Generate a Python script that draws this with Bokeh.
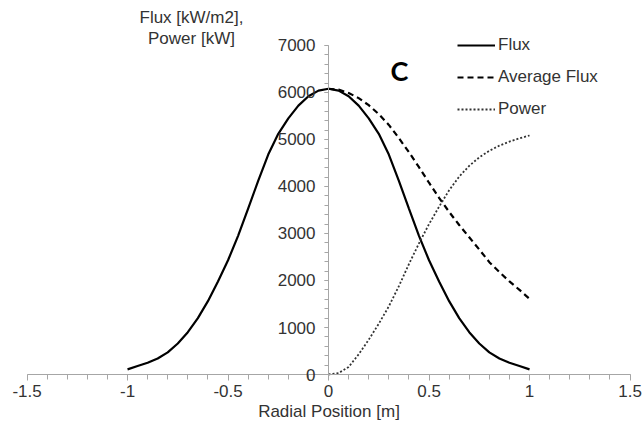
from bokeh.plotting import figure
from bokeh.models import (LinearAxis, Label, Legend, LegendItem, FixedTicker, Range1d)
from bokeh.embed import file_html
from bokeh.resources import INLINE

# ---------------- data ----------------
flux_x = [-1.0, -0.95, -0.9, -0.85, -0.8, -0.75, -0.7, -0.65, -0.6, -0.55, -0.5,
          -0.45, -0.4, -0.35, -0.3, -0.25, -0.2, -0.15, -0.1, -0.05, 0.0,
          0.05, 0.1, 0.15, 0.2, 0.25, 0.3, 0.35, 0.4, 0.45, 0.5,
          0.55, 0.6, 0.65, 0.7, 0.75, 0.8, 0.85, 0.9, 0.95, 1.0]
flux_y = [110, 180, 250, 340, 470, 660, 900, 1200, 1560, 1980, 2430,
          2950, 3530, 4120, 4680, 5120, 5450, 5720, 5920, 6040, 6080,
          6040, 5920, 5720, 5450, 5120, 4680, 4120, 3530, 2950, 2430,
          1980, 1560, 1200, 900, 660, 470, 340, 250, 180, 110]

half_x = [0.0, 0.05, 0.1, 0.15, 0.2, 0.25, 0.3, 0.35, 0.4, 0.45, 0.5,
          0.55, 0.6, 0.65, 0.7, 0.75, 0.8, 0.85, 0.9, 0.95, 1.0]
avg_flux = [6080, 6060, 5990, 5880, 5730, 5540, 5310, 5030, 4730, 4410, 4080,
            3760, 3460, 3180, 2920, 2660, 2390, 2180, 1980, 1800, 1610]
power = [0, 30, 160, 430, 740, 1080, 1450, 1880, 2350, 2790, 3200,
         3570, 3920, 4210, 4440, 4620, 4760, 4870, 4955, 5025, 5085]

series_names = ["Flux", "Average Flux", "Power"]

x_ticks = [-1.5, -1.0, -0.5, 0.0, 0.5, 1.0, 1.5]
x_tick_labels = ["-1.5", "-1", "-0.5", "0", "0.5", "1", "1.5"]
y_ticks = [0, 1000, 2000, 3000, 4000, 5000, 6000, 7000]
y_tick_labels = ["0", "1000", "2000", "3000", "4000", "5000", "6000", "7000"]

x_title = "Radial Position [m]"
y_title_lines = ["Flux [kW/m2],", "Power [kW]"]
panel_letter = "C"

# ---------------- styling ----------------
FONT = "Liberation Sans"
TXT = "#333333"
AXC = "#a6a6a6"
FS = "17px"

# the frame fills the whole canvas; the axes sit at fixed locations inside it
p = figure(width=643, height=429,
           x_range=Range1d(-1.632, 1.567), y_range=Range1d(-1170, 7957),
           output_backend="svg", toolbar_location=None,
           x_axis_location=None, y_axis_location=None,
           min_border_left=0, min_border_right=0,
           min_border_top=0, min_border_bottom=0)
p.grid.visible = False
p.outline_line_color = None
p.background_fill_color = "white"
p.border_fill_color = "white"

x_minor = [round(-1.5 + 0.1 * i, 2) for i in range(31)]
y_minor = list(range(0, 7001, 200))

xaxis = LinearAxis(fixed_location=0, bounds=(x_ticks[0], x_ticks[-1]),
                   ticker=FixedTicker(ticks=x_ticks, minor_ticks=x_minor),
                   major_label_overrides={v: s for v, s in zip(x_ticks, x_tick_labels)})
xaxis.axis_label = x_title
yaxis = LinearAxis(fixed_location=0, bounds=(y_ticks[0], y_ticks[-1]),
                   ticker=FixedTicker(ticks=y_ticks, minor_ticks=y_minor),
                   major_label_overrides={v: s for v, s in zip(y_ticks, y_tick_labels)})

for ax in (xaxis, yaxis):
    ax.axis_line_color = AXC
    ax.axis_line_width = 1
    ax.major_tick_line_color = AXC
    ax.minor_tick_line_color = AXC
    ax.major_tick_in = 0
    ax.minor_tick_in = 0
    ax.major_label_text_font = FONT
    ax.major_label_text_font_size = FS
    ax.major_label_text_color = TXT
    ax.axis_label_text_font = FONT
    ax.axis_label_text_font_size = FS
    ax.axis_label_text_color = TXT
    ax.axis_label_text_font_style = "normal"

xaxis.major_tick_out = 6
xaxis.minor_tick_out = 5
xaxis.major_label_standoff = 4
xaxis.axis_label_standoff = 2
yaxis.major_tick_out = 4
yaxis.minor_tick_out = 4
yaxis.major_label_standoff = 9

p.add_layout(xaxis, "below")
p.add_layout(yaxis, "left")

r_flux = p.line(flux_x, flux_y, line_color="black", line_width=2.2)
r_avg = p.line(half_x, avg_flux, line_color="black", line_width=2.2, line_dash="6 4")
r_pow = p.line(half_x, power, line_color="#333333", line_width=1.8, line_dash="2 2")

legend = Legend(items=[LegendItem(label=series_names[0], renderers=[r_flux]),
                       LegendItem(label=series_names[1], renderers=[r_avg]),
                       LegendItem(label=series_names[2], renderers=[r_pow])],
                location=(457, 310), glyph_width=38, glyph_height=20,
                label_height=20, spacing=12, padding=0, margin=0,
                border_line_color=None, background_fill_alpha=0,
                label_text_font=FONT, label_text_font_size=FS,
                label_text_color=TXT, label_standoff=3)
p.add_layout(legend)

p.add_layout(Label(x=0.353, y=6468, text=panel_letter, text_font="Lato",
                   text_font_style="bold", text_font_size="27px",
                   text_align="center", text_baseline="middle", text_color="black"))
p.add_layout(Label(x=-0.682, y=7596, text=y_title_lines[0], text_font=FONT,
                   text_font_size=FS, text_color=TXT,
                   text_align="center", text_baseline="middle"))
p.add_layout(Label(x=-0.682, y=7149, text=y_title_lines[1], text_font=FONT,
                   text_font_size=FS, text_color=TXT,
                   text_align="center", text_baseline="middle"))

open("out.html", "w").write(file_html(p, INLINE))
